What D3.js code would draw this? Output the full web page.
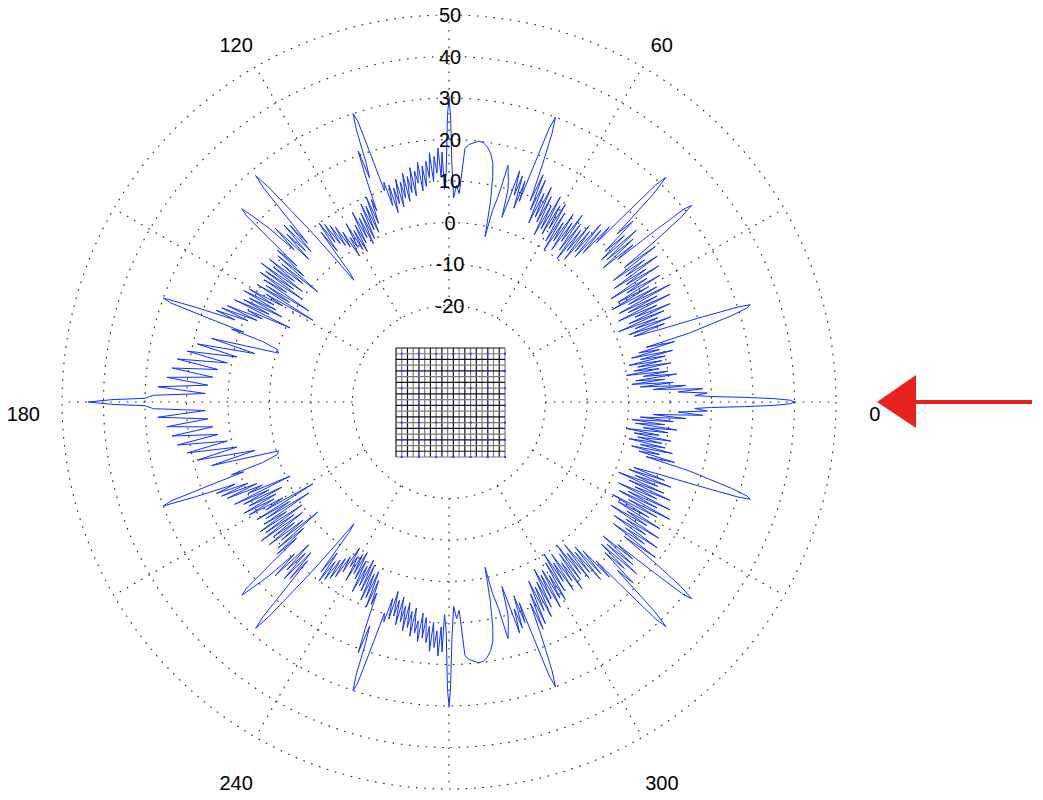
<!DOCTYPE html>
<html><head><meta charset="utf-8">
<script src="https://cdn.jsdelivr.net/npm/d3@7"></script>
<style>body{margin:0;background:#fff;} text{font-family:"Liberation Sans",Arial,Helvetica,sans-serif;}</style>
</head><body><svg id="c" width="1043" height="800"></svg>
<script>
const ringValues = [-20,-10,0,10,20,30,40,50];
const ringLabels = ["-20","-10","0","10","20","30","40","50"];
const spokeAngles = [0,30,60,90,120,150,180,210,240,270,300,330];
const angleLabels = [0,60,120,180,240,300];
// [angle above the 0-180 axis (deg, counter-clockwise), level (dB)]
const upperPattern = [[0,40],[0.3,39],[0.6,35],[0.9,28],[1.2,20],[1.5,16],[2,19],[2.5,12],[3,18],[3.5,6],[4,14],[4.5,3],[5,11],[5.5,1],[6,9],[6.5,2],[7,12],[7.5,4],[8,10],[8.5,0],[9,8],[9.5,2],[10,11],[10.5,3],[11,9],[11.5,1],[12,10],[12.5,4],[13,12],[13.5,2],[14,9],[14.5,4],[15,13],[15.5,6],[16,17],[16.5,22],[17,28],[17.5,32],[17.9,33],[18.2,30],[18.6,20],[19,10],[19.5,4],[20,12],[20.5,3],[21,14],[21.5,5],[22,11],[22.5,1],[23,13],[23.5,4],[24,15],[24.5,6],[25,12],[25.5,2],[26,16],[26.5,5],[27,13],[27.5,3],[28,17],[28.5,6],[29,14],[29.5,2],[30,12],[30.5,4],[31,16],[31.5,7],[32,13],[32.5,3],[33,17],[33.5,8],[34,14],[34.5,5],[35,18],[35.5,9],[36,15],[36.5,6],[37,19],[37.5,10],[38,20],[38.5,28],[39,32],[39.4,30],[39.8,20],[40.2,10],[40.5,15],[41,6],[41.5,16],[42,8],[42.5,18],[43,7],[43.5,15],[44,9],[44.5,19],[45,14],[45.5,27],[46,32],[46.4,29],[46.8,18],[47.2,9],[47.5,14],[48,5],[48.5,12],[49,3],[49.5,13],[50,4],[50.5,10],[51,1],[51.5,11],[52,3],[52.5,9],[53,0],[53.5,10],[54,2],[54.5,12],[55,4],[55.5,9],[56,1],[56.5,11],[57,3],[57.5,8],[58,0],[58.5,10],[59,2],[59.5,12],[60,5],[60.5,11],[61,3],[61.5,13],[62,4],[62.5,10],[63,2],[63.5,12],[64,5],[64.5,14],[65,6],[65.5,12],[66,4],[66.5,15],[67,7],[67.5,16],[68,9],[68.5,18],[69,26],[69.5,30],[69.9,27],[70.3,16],[70.7,8],[71,13],[71.5,6],[72,14],[72.5,9],[73,15],[73.5,8],[74,3],[74.5,10],[75,12],[76,15.5],[76.5,8],[77.2,4],[77.7,-2.5],[78.3,6],[79,12],[79.6,15.3],[80.5,17.5],[81.5,19],[82.5,19.8],[83.5,20],[84.5,19.5],[85.5,19],[86.4,18],[86.8,12],[87.2,7],[88,9],[88.7,6],[89.3,14],[89.7,26],[90,30],[90.3,26],[90.7,12],[91.2,8],[91.6,17],[92,11],[92.5,18],[93,12],[93.5,16],[94,10],[94.5,17],[95,11],[95.5,15],[96,9],[96.5,14],[97,8],[97.5,15],[98,10],[98.5,13],[99,7],[99.5,14],[100,8],[100.5,12],[101,6],[101.5,13],[102,7],[102.5,11],[103,5],[103.5,12],[104,6],[104.5,10],[105,4],[105.5,11],[106,6],[106.5,12],[107,10],[107.6,20],[108,28],[108.4,30],[108.8,26],[109.1,18],[109.5,14],[109.9,21],[110.3,15],[110.7,6],[111,9],[111.5,3],[112,10],[112.5,1],[113,8],[113.5,2],[114,9],[114.5,0],[115,7],[115.5,-1],[116,6],[116.5,1],[117,8],[117.5,0],[118,5],[118.5,-2],[119,4],[119.5,-1],[120,6],[120.5,0],[121,3],[121.5,-2],[122,5],[122.5,1],[123,7],[123.5,2],[124,8],[124.5,3],[125,9],[125.5,4],[126,10],[126.5,2],[127,8],[127.5,-4],[128,-6],[128.5,2],[129,10],[129.5,16],[130,24],[130.5,28.5],[130.9,25],[131.3,15],[131.7,8],[132,14],[132.5,6],[133,15],[133.5,7],[134,13],[134.5,5],[135,16],[135.5,9],[136,17],[136.6,22],[137,25],[137.4,23],[137.8,14],[138.2,6],[138.5,12],[139,3],[139.5,11],[140,-2],[140.5,9],[141,2],[141.5,12],[142,4],[142.5,10],[143,1],[143.5,13],[144,3],[144.5,11],[145,0],[145.5,12],[146,4],[146.5,10],[147,-3],[147.5,9],[148,2],[148.5,11],[149,-5],[149.5,8],[150,3],[150.5,12],[151,5],[151.5,13],[152,4],[152.5,11],[153,2],[153.5,12],[154,5],[154.5,14],[155,-1],[155.5,10],[156,6],[156.5,15],[157,7],[157.5,16],[158,9],[158.5,17],[159,12],[159.5,22],[160,30],[160.4,28],[160.8,18],[161.2,9],[161.5,12],[162,4],[163,0],[164,-0.5],[165,16],[166,5],[167,19],[168,9],[169,21],[170,11],[171,23],[172,13],[173,24],[174,14],[175,25],[176,15],[177,27],[178,15.5],[178.7,28],[179.3,30],[179.6,38],[180,43.7]];
// [angle below the 0-180 axis (deg, clockwise), level (dB)]
const lowerPattern = [[0,40],[0.3,39],[0.6,35],[0.9,28],[1.2,20],[1.5,16],[2,19],[2.5,12],[3,18],[3.5,6],[4,14],[4.5,3],[5,11],[5.5,1],[6,9],[6.5,2],[7,12],[7.5,4],[8,10],[8.5,0],[9,8],[9.5,2],[10,11],[10.5,3],[11,9],[11.5,1],[12,10],[12.5,4],[13,12],[13.5,2],[14,9],[14.5,4],[15,13],[15.5,6],[16,17],[16.5,22],[17,28],[17.5,32],[17.9,33],[18.2,30],[18.6,20],[19,10],[19.5,4],[20,12],[20.5,3],[21,14],[21.5,5],[22,11],[22.5,1],[23,13],[23.5,4],[24,15],[24.5,6],[25,12],[25.5,2],[26,16],[26.5,5],[27,13],[27.5,3],[28,17],[28.5,6],[29,14],[29.5,2],[30,12],[30.5,4],[31,16],[31.5,7],[32,13],[32.5,3],[33,17],[33.5,8],[34,14],[34.5,5],[35,18],[35.5,9],[36,15],[36.5,6],[37,19],[37.5,10],[38,20],[38.5,28],[39,32],[39.4,30],[39.8,20],[40.2,10],[40.5,15],[41,6],[41.5,16],[42,8],[42.5,18],[43,7],[43.5,15],[44,9],[44.5,19],[45,14],[45.5,27],[46,32],[46.4,29],[46.8,18],[47.2,9],[47.5,14],[48,5],[48.5,12],[49,3],[49.5,13],[50,4],[50.5,10],[51,1],[51.5,11],[52,3],[52.5,9],[53,0],[53.5,10],[54,2],[54.5,12],[55,4],[55.5,9],[56,1],[56.5,11],[57,3],[57.5,8],[58,0],[58.5,10],[59,2],[59.5,12],[60,5],[60.5,11],[61,3],[61.5,13],[62,4],[62.5,10],[63,2],[63.5,12],[64,5],[64.5,14],[65,6],[65.5,12],[66,4],[66.5,15],[67,7],[67.5,16],[68,9],[68.5,18],[69,26],[69.5,30],[69.9,27],[70.3,16],[70.7,8],[71,13],[71.5,6],[72,14],[72.5,9],[73,15],[73.5,8],[74,3],[74.5,10],[75,12],[76,15.5],[76.5,8],[77.2,4],[77.7,-2.5],[78.3,6],[79,12],[79.6,15.3],[80.5,17.5],[81.5,19],[82.5,19.8],[83.5,20],[84.5,19.5],[85.5,19],[86.4,18],[86.8,12],[87.2,7],[88,9],[88.7,6],[89.3,14],[89.7,26],[90,30],[90.3,26],[90.7,12],[91.2,8],[91.6,17],[92,11],[92.5,18],[93,12],[93.5,16],[94,10],[94.5,17],[95,11],[95.5,15],[96,9],[96.5,14],[97,8],[97.5,15],[98,10],[98.5,13],[99,7],[99.5,14],[100,8],[100.5,12],[101,6],[101.5,13],[102,7],[102.5,11],[103,5],[103.5,12],[104,6],[104.5,10],[105,4],[105.5,11],[106,6],[106.5,12],[107,10],[107.6,20],[108,28],[108.4,30],[108.8,26],[109.1,18],[109.5,14],[109.9,21],[110.3,15],[110.7,6],[111,9],[111.5,3],[112,10],[112.5,1],[113,8],[113.5,2],[114,9],[114.5,0],[115,7],[115.5,-1],[116,6],[116.5,1],[117,8],[117.5,0],[118,5],[118.5,-2],[119,4],[119.5,-1],[120,6],[120.5,0],[121,3],[121.5,-2],[122,5],[122.5,1],[123,7],[123.5,2],[124,8],[124.5,3],[125,9],[125.5,4],[126,10],[126.5,2],[127,8],[127.5,-4],[128,-6],[128.5,2],[129,10],[129.5,16],[130,24],[130.5,28.5],[130.9,25],[131.3,15],[131.7,8],[132,14],[132.5,6],[133,15],[133.5,7],[134,13],[134.5,5],[135,16],[135.5,9],[136,17],[136.6,22],[137,25],[137.4,23],[137.8,14],[138.2,6],[138.5,12],[139,3],[139.5,11],[140,-2],[140.5,9],[141,2],[141.5,12],[142,4],[142.5,10],[143,1],[143.5,13],[144,3],[144.5,11],[145,0],[145.5,12],[146,4],[146.5,10],[147,-3],[147.5,9],[148,2],[148.5,11],[149,-5],[149.5,8],[150,3],[150.5,12],[151,5],[151.5,13],[152,4],[152.5,11],[153,2],[153.5,12],[154,5],[154.5,14],[155,-1],[155.5,10],[156,6],[156.5,15],[157,7],[157.5,16],[158,9],[158.5,17],[159,12],[159.5,22],[160,30],[160.4,28],[160.8,18],[161.2,9],[161.5,12],[162,4],[163,0],[164,-0.5],[165,16],[166,5],[167,19],[168,9],[169,21],[170,11],[171,23],[172,13],[173,24],[174,14],[175,25],[176,15],[177,27],[178,15.5],[178.7,28],[179.3,30],[179.6,38],[180,43.7]];
const gridCells = 19;

const svg = d3.select("#c");
const cx = 449, cy = 402;
const r = d3.scaleLinear().domain([-43.25,50]).range([0,387]);
const g = svg.append("g").attr("transform",`translate(${cx},${cy})`);
const rad = a => a*Math.PI/180;
const dots = {stroke:"#222", "stroke-width":1.1, "stroke-dasharray":"1.6,6.7", fill:"none"};
function sty(sel,o){for(const k in o) sel.attr(k,o[k]); return sel;}

sty(g.selectAll("circle.ring").data(ringValues).join("circle").attr("class","ring").attr("r",d=>r(d)), dots);
sty(g.selectAll("line.spoke").data(spokeAngles).join("line").attr("class","spoke")
  .attr("x1",d=>r(-20)*Math.cos(rad(d))).attr("y1",d=>-r(-20)*Math.sin(rad(d)))
  .attr("x2",d=>r(50)*Math.cos(rad(d))).attr("y2",d=>-r(50)*Math.sin(rad(d))), dots);

// array grid
const gs = d3.scaleLinear().domain([0,gridCells]).range([-53,56]);
const gg = g.append("g");
const idx = d3.range(gridCells+1);
gg.selectAll("line.v").data(idx).join("line").attr("x1",d=>gs(d)).attr("x2",d=>gs(d)).attr("y1",gs(0)-1).attr("y2",gs(gridCells)-1)
  .attr("stroke",(d,i)=>i%2?"#7a7a80":"#101020").attr("stroke-width",1.2);
gg.selectAll("line.h").data(idx).join("line").attr("y1",d=>gs(d)-1).attr("y2",d=>gs(d)-1).attr("x1",gs(0)).attr("x2",gs(gridCells))
  .attr("stroke",(d,i)=>i%2?"#7a7a80":"#101020").attr("stroke-width",1.2);
const dotIdx = idx.filter(i=>i%3===1);
gg.selectAll("rect.dot").data(d3.cross(dotIdx,dotIdx)).join("rect").attr("x",d=>gs(d[0])-1).attr("y",d=>gs(d[1])-2).attr("width",2).attr("height",2).attr("fill","#2a3cff");

// pattern: upper half counter-clockwise 0..180, then lower half back from 180 to 360
const pattern = upperPattern.map(d=>({a:d[0],v:d[1]}))
  .concat(lowerPattern.slice().reverse().map(d=>({a:360-d[0],v:d[1]})));
const line = d3.lineRadial().angle(d=>rad(90-d.a)).radius(d=>r(d.v));
g.append("path").datum(pattern).attr("d",line).attr("fill","none").attr("stroke","#1030ff").attr("stroke-width",1);

// labels
g.selectAll("text.rl").data(ringValues).join("text").attr("class","rl").attr("x",1).attr("y",d=>-r(d))
  .attr("text-anchor","middle").attr("dominant-baseline","central").attr("font-size",20).text((d,i)=>ringLabels[i]);
const rl = r(50)*1.1;
g.selectAll("text.al").data(angleLabels).join("text").attr("class","al")
  .attr("x",d=>rl*Math.cos(rad(d))).attr("y",d=>-rl*Math.sin(rad(d))+12)
  .attr("text-anchor","middle").attr("dominant-baseline","central").attr("font-size",20).text(d=>d);

// arrow
svg.append("line").attr("x1",1032).attr("x2",910).attr("y1",402).attr("y2",402).attr("stroke","#e8231d").attr("stroke-width",4);
svg.append("polygon").attr("points","877,402 916,375 916,428").attr("fill","#e8231d");
</script></body></html>
